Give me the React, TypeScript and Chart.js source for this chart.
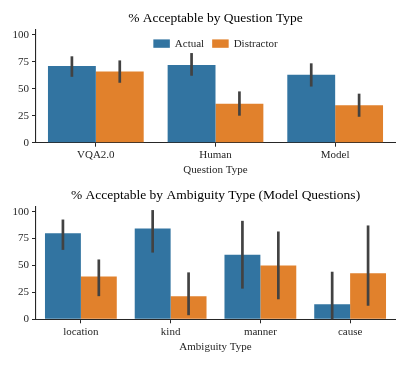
import React, { useEffect, useRef } from "react";
import { Chart, registerables } from "chart.js";

Chart.register(...registerables);

// ---------- data ----------
const questionTypes = ["VQA2.0", "Human", "Model"];
const qActual = [71, 72, 63];
const qActualLow = [61, 62, 52];
const qActualHigh = [80, 83, 73.5];
const qDistractor = [66, 36, 34.7];
const qDistractorLow = [55.5, 25, 24];
const qDistractorHigh = [76.2, 47.5, 45.4];

const ambiguityTypes = ["location", "kind", "manner", "cause"];
const aActual = [80, 84.3, 60, 14];
const aActualLow = [64.5, 62, 28.5, 0];
const aActualHigh = [92.7, 101.5, 91.5, 44.2];
const aDistractor = [39.7, 21.4, 50, 42.8];
const aDistractorLow = [21.5, 3.8, 18.6, 12.6];
const aDistractorHigh = [55.6, 43.6, 81.6, 87.2];

const yTickValues = [0, 25, 50, 75, 100];
const seriesNames = ["Actual", "Distractor"];

const FONT = "'Liberation Serif', 'Times New Roman', serif";
const BLUE = "#3274a1";
const ORANGE = "#e1812c";
const TEXT = "#262626";

const errorBarPlugin = {
  id: "errorBars",
  afterDatasetsDraw(chart: any) {
    const ctx = chart.ctx;
    const y = chart.scales.y;
    chart.data.datasets.forEach((ds: any, i: number) => {
      const meta = chart.getDatasetMeta(i);
      meta.data.forEach((el: any, j: number) => {
        ctx.save();
        ctx.strokeStyle = "#424242";
        ctx.lineWidth = 2.7;
        ctx.lineCap = "butt";
        ctx.beginPath();
        ctx.moveTo(el.x, y.getPixelForValue(ds.errLow[j]));
        ctx.lineTo(el.x, y.getPixelForValue(ds.errHigh[j]));
        ctx.stroke();
        ctx.restore();
      });
    });
  },
};

const innerLegendPlugin = {
  id: "innerLegend",
  afterDraw(chart: any, _args: any, opts: any) {
    if (!opts || !opts.display) return;
    const ctx = chart.ctx;
    const area = chart.chartArea;
    const boxW = 16.5;
    const boxH = 8.4;
    const gap = 5;
    const itemGap = 8;
    ctx.save();
    ctx.font = `11px ${FONT}`;
    const items = chart.data.datasets.map((ds: any) => ({
      label: ds.label,
      color: ds.backgroundColor,
      w: boxW + gap + ctx.measureText(ds.label).width,
    }));
    const total =
      items.reduce((s: number, it: any) => s + it.w, 0) + itemGap * (items.length - 1);
    let x = (area.left + area.right) / 2 - total / 2;
    const cy = area.top + 14.3;
    items.forEach((it: any) => {
      ctx.fillStyle = it.color;
      ctx.fillRect(x, cy - boxH / 2, boxW, boxH);
      ctx.fillStyle = TEXT;
      ctx.textBaseline = "middle";
      ctx.textAlign = "left";
      ctx.fillText(it.label, x + boxW + gap, cy + 0.5);
      x += it.w + itemGap;
    });
    ctx.restore();
  },
};

function makeConfig(
  labels: string[],
  a: number[],
  aLo: number[],
  aHi: number[],
  d: number[],
  dLo: number[],
  dHi: number[],
  title: string,
  xTitle: string,
  p: {
    titleTop: number;
    titleBottom: number;
    xHeight: number;
    tickPad: number;
    xTitlePad: number;
    legend: boolean;
  }
): any {
  return {
    type: "bar",
    data: {
      labels,
      datasets: [
        {
          label: seriesNames[0],
          data: a,
          errLow: aLo,
          errHigh: aHi,
          backgroundColor: BLUE,
          borderWidth: 0,
          categoryPercentage: 0.8,
          barPercentage: 1.0,
        },
        {
          label: seriesNames[1],
          data: d,
          errLow: dLo,
          errHigh: dHi,
          backgroundColor: ORANGE,
          borderWidth: 0,
          categoryPercentage: 0.8,
          barPercentage: 1.0,
        },
      ],
    },
    options: {
      responsive: false,
      animation: false,
      devicePixelRatio: 1,
      layout: { padding: { left: 0, right: 12, top: 0, bottom: 0 } },
      plugins: {
        legend: { display: false },
        tooltip: { enabled: false },
        title: {
          display: true,
          fullSize: false,
          text: title,
          color: "#000",
          font: { family: FONT, size: 13.5, weight: "normal", lineHeight: 1.2 },
          padding: { top: p.titleTop, bottom: p.titleBottom },
        },
        innerLegend: { display: p.legend },
      },
      scales: {
        x: {
          grid: {
            display: true,
            drawOnChartArea: false,
            drawTicks: true,
            tickLength: 4,
            tickColor: TEXT,
            offset: false,
          },
          border: { display: true, color: TEXT, width: 1.1 },
          ticks: {
            color: TEXT,
            font: { family: FONT, size: 11, lineHeight: 1.2 },
            padding: p.tickPad,
            maxRotation: 0,
          },
          title: {
            display: true,
            text: xTitle,
            color: TEXT,
            font: { family: FONT, size: 11, lineHeight: 1.2 },
            padding: { top: 0, bottom: p.xTitlePad },
          },
          afterFit(scale: any) {
            scale.height = p.xHeight;
          },
        },
        y: {
          min: 0,
          max: 105,
          grid: {
            display: true,
            drawOnChartArea: false,
            drawTicks: true,
            tickLength: 4,
            tickColor: TEXT,
          },
          border: { display: true, color: TEXT, width: 1.1 },
          ticks: {
            color: TEXT,
            font: { family: FONT, size: 11, lineHeight: 1.2 },
            padding: 3,
          },
          afterBuildTicks(scale: any) {
            scale.ticks = yTickValues.map((v) => ({ value: v }));
          },
          afterFit(scale: any) {
            scale.width = 36;
          },
        },
      },
    },
    plugins: [errorBarPlugin, innerLegendPlugin],
  };
}

export default function App() {
  const topRef = useRef<HTMLCanvasElement | null>(null);
  const bottomRef = useRef<HTMLCanvasElement | null>(null);

  useEffect(() => {
    const c1 = new Chart(
      topRef.current as HTMLCanvasElement,
      makeConfig(
        questionTypes,
        qActual,
        qActualLow,
        qActualHigh,
        qDistractor,
        qDistractorLow,
        qDistractorHigh,
        "% Acceptable by Question Type",
        "Question Type",
        { titleTop: 10, titleBottom: 3.1, xHeight: 37.3, tickPad: 1.7, xTitlePad: 3.4, legend: true }
      )
    );
    const c2 = new Chart(
      bottomRef.current as HTMLCanvasElement,
      makeConfig(
        ambiguityTypes,
        aActual,
        aActualLow,
        aActualHigh,
        aDistractor,
        aDistractorLow,
        aDistractorHigh,
        "% Acceptable by Ambiguity Type (Model Questions)",
        "Ambiguity Type",
        { titleTop: 7, titleBottom: 3.1, xHeight: 46.7, tickPad: 2.4, xTitlePad: 12.7, legend: false }
      )
    );
    return () => {
      c1.destroy();
      c2.destroy();
    };
  }, []);

  return (
    <div style={{ position: "absolute", left: 0, top: 0, width: 407, height: 366, background: "#fff" }}>
      <canvas ref={topRef} width={407} height={180} style={{ display: "block", width: 407, height: 180 }} />
      <canvas ref={bottomRef} width={407} height={186} style={{ display: "block", width: 407, height: 186 }} />
    </div>
  );
}
